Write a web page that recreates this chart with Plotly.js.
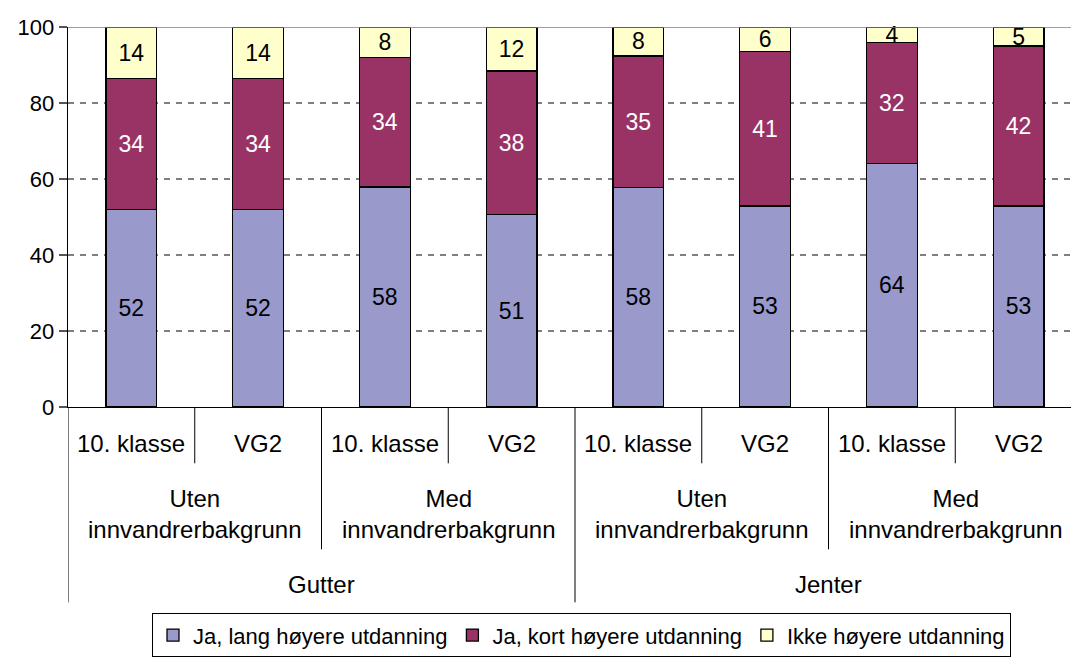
<!DOCTYPE html>
<html>
<head>
<meta charset="utf-8">
<script src="https://cdn.plot.ly/plotly-3.0.1.min.js"></script>
<style>html,body{margin:0;padding:0;background:#fff;}#chart{width:1071px;height:660px;}</style>
</head>
<body>
<div id="chart"></div>
<script>
// ---- data ----
const klasse = ['10. klasse', 'VG2', '10. klasse', 'VG2', '10. klasse', 'VG2', '10. klasse', 'VG2'];
const bakgrunn = ['Uten<br>innvandrerbakgrunn', 'Med<br>innvandrerbakgrunn', 'Uten<br>innvandrerbakgrunn', 'Med<br>innvandrerbakgrunn'];
const kjonn = ['Gutter', 'Jenter'];
const seriesNames = ['Ja, lang høyere utdanning', 'Ja, kort høyere utdanning', 'Ikke høyere utdanning'];
const lang = [52.0, 52.0, 57.9, 50.6, 57.8, 52.9, 64.1, 52.9];
const kort = [34.4, 34.4, 34.0, 37.8, 34.6, 40.7, 31.9, 42.1];
const ikke = [13.6, 13.6, 8.1, 11.6, 7.6, 6.4, 4.0, 5.0];
const langLabels = [52, 52, 58, 51, 58, 53, 64, 53];
const kortLabels = [34, 34, 34, 38, 35, 41, 32, 42];
const ikkeLabels = [14, 14, 8, 12, 8, 6, 4, 5];
const yTicks = [0, 20, 40, 60, 80, 100];

// ---- layout helpers ----
const FONT = 'Liberation Sans, Arial, sans-serif';
const zeroPx = 406.7, plotH = 380;
const py = p => (zeroPx - p) / plotH;
const xs = klasse.map((_, i) => i);

function barTrace(name, vals, labels, color, textColor) {
  return {
    type: 'bar', name: name, x: xs, y: vals,
    text: labels.map(String), textposition: 'inside', insidetextanchor: 'middle',
    textangle: 0, constraintext: 'none', cliponaxis: false,
    textfont: {family: FONT, size: 23, color: textColor},
    marker: {color: color, line: {color: '#000', width: 1.3}},
    hoverinfo: 'name+y'
  };
}

const data = [
  barTrace(seriesNames[0], lang, langLabels, '#9999CC', '#000'),
  barTrace(seriesNames[1], kort, kortLabels, '#993366', '#fff'),
  barTrace(seriesNames[2], ikke, ikkeLabels, '#FFFFCC', '#000')
];

const annotations = [];
klasse.forEach((t, i) => annotations.push({
  text: t, x: i, xref: 'x', y: py(443), yref: 'paper', showarrow: false,
  xanchor: 'center', yanchor: 'middle', font: {family: FONT, size: 24, color: '#000'}
}));
bakgrunn.forEach((t, g) => annotations.push({
  text: t, x: 2 * g + 0.5, xref: 'x', y: py(514), yref: 'paper', showarrow: false,
  xanchor: 'center', yanchor: 'middle', font: {family: FONT, size: 24, color: '#000'}
}));
kjonn.forEach((t, k) => annotations.push({
  text: t, x: 4 * k + 1.5, xref: 'x', y: py(584), yref: 'paper', showarrow: false,
  xanchor: 'center', yanchor: 'middle', font: {family: FONT, size: 24, color: '#000'}
}));

const shapes = [];
const vline = (x, yEnd) => shapes.push({
  type: 'line', xref: 'x', yref: 'paper', x0: x, x1: x, y0: 0, y1: py(yEnd),
  line: {color: '#000', width: 1}
});
[0.5, 2.5, 4.5, 6.5].forEach(x => vline(x, 463));
[1.5, 5.5].forEach(x => vline(x, 549));
[-0.5, 3.5, 7.5].forEach(x => vline(x, 602));
// solid top border line at 100
shapes.push({type: 'line', xref: 'paper', yref: 'y', x0: 0, x1: 1, y0: 100, y1: 100,
  line: {color: '#808080', width: 1.3}});

const layout = {
  width: 1071, height: 660,
  margin: {l: 68, r: 0, t: 26.7, b: 660 - zeroPx, pad: 0, autoexpand: false},
  paper_bgcolor: '#fff', plot_bgcolor: '#fff',
  barmode: 'stack', bargap: 0.6,
  font: {family: FONT, color: '#000'},
  showlegend: true,
  legend: {
    orientation: 'h', traceorder: 'normal',
    x: (581.5 - 68) / 1003, xanchor: 'center', xref: 'paper',
    y: py(613), yanchor: 'top', yref: 'paper',
    bordercolor: '#000', borderwidth: 1, bgcolor: '#fff',
    font: {family: FONT, size: 22, color: '#000'},
    itemwidth: 30
  },
  xaxis: {
    type: 'linear', range: [-0.5, -0.5 + (1071 - 68) / 126.75],
    showticklabels: false, ticks: '', showgrid: false, zeroline: false,
    showline: true, linecolor: '#000', linewidth: 1.3, fixedrange: true
  },
  yaxis: {
    range: [0, 100], tickvals: yTicks, ticktext: yTicks.map(String),
    ticks: 'outside', ticklen: 8, tickcolor: '#555', tickwidth: 1.3,
    tickfont: {family: FONT, size: 22, color: '#000'},
    showgrid: true, gridcolor: '#808080', griddash: '6px,6px', gridwidth: 1.3,
    zeroline: false, showline: true, linecolor: '#000', linewidth: 1.3,
    fixedrange: true
  },
  annotations: annotations,
  shapes: shapes
};

Plotly.newPlot('chart', data, layout, {displayModeBar: false, staticPlot: true});
</script>
</body>
</html>
